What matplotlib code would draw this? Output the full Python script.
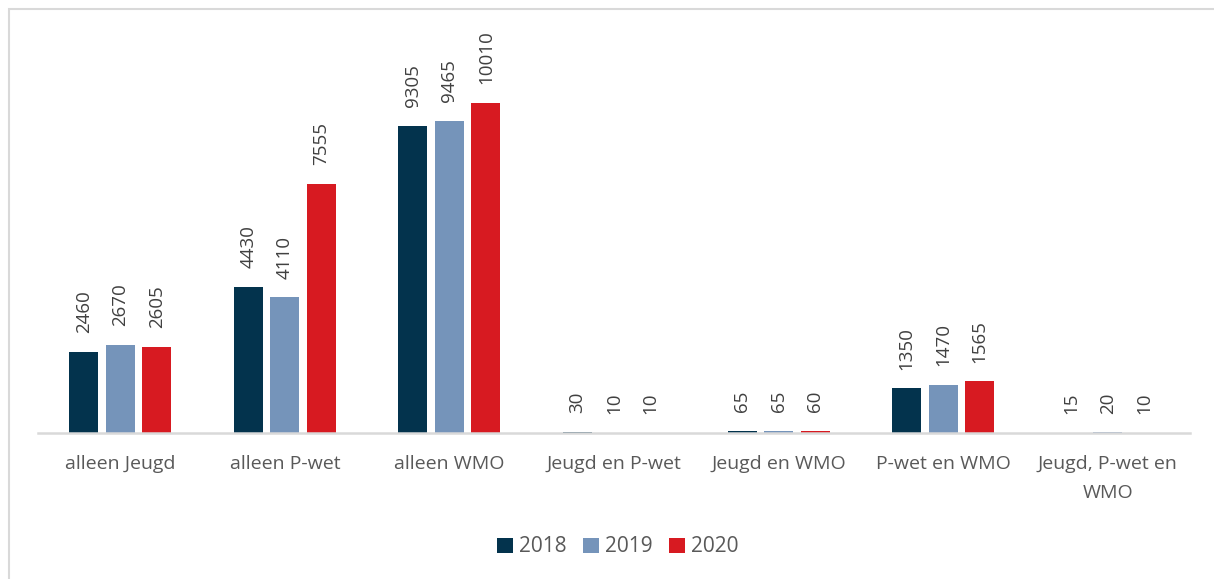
import numpy as np
import matplotlib.pyplot as plt
from matplotlib.patches import Rectangle

plt.rcParams['font.family'] = ['Open Sans', 'DejaVu Sans']

categories = ['alleen Jeugd', 'alleen P-wet', 'alleen WMO', 'Jeugd en P-wet',
              'Jeugd en WMO', 'P-wet en WMO', 'Jeugd, P-wet en\nWMO']
years = ['2018', '2019', '2020']
values_2018 = [2460, 4430, 9305, 30, 65, 1350, 15]
values_2019 = [2670, 4110, 9465, 10, 65, 1470, 20]
values_2020 = [2605, 7555, 10010, 10, 60, 1565, 10]
colors = ['#03334D', '#7594BA', '#D71A21']

W, H = 1214, 579
fig = plt.figure(figsize=(W / 100, H / 100), dpi=100)

# light grey chart frame running off the right and bottom edges
fig.patches.append(Rectangle((9 / W, -0.1), 1.2, 1 - 9 / H + 0.1,
                             transform=fig.transFigure, fill=False,
                             edgecolor='#D9D9D9', linewidth=1.5))

ymax = 12000
base_px, top_px = 433, 433 - 12000 * 0.03297
ax = fig.add_axes([38 / W, 1 - base_px / H, (1190 - 38) / W, (base_px - top_px) / H])

x = np.arange(len(categories))
width = 0.176
step = 0.222
series = [values_2018, values_2019, values_2020]
for i, (vals, yr, c) in enumerate(zip(series, years, colors)):
    bars = ax.bar(x + (i - 1) * step, vals, width, color=c, label=yr)
    for b, v in zip(bars, vals):
        ax.annotate(str(v), (b.get_x() + b.get_width() / 2, v),
                    xytext=(0, 13.5), textcoords='offset points',
                    rotation=90, ha='center', va='bottom',
                    fontsize=13.5, color='#404040')

ax.set_xlim(-0.5, len(categories) - 0.5)
ax.set_ylim(0, ymax)
ax.set_yticks([])
ax.set_xticks(x)
ax.set_xticklabels(categories, fontsize=14, color='#595959', linespacing=1.8)
ax.tick_params(axis='x', length=0, pad=16)
for s in ['top', 'right', 'left']:
    ax.spines[s].set_visible(False)
ax.spines['bottom'].set_color('#D9D9D9')
ax.spines['bottom'].set_linewidth(1.8)

fig.legend(loc='center', bbox_to_anchor=(618 / W, 1 - 547 / H), ncol=3,
           frameon=False, fontsize=15, labelcolor='#595959',
           handlelength=0.75, handleheight=0.75, handletextpad=0.3,
           columnspacing=0.8)

fig.savefig('out.png', dpi=100)
